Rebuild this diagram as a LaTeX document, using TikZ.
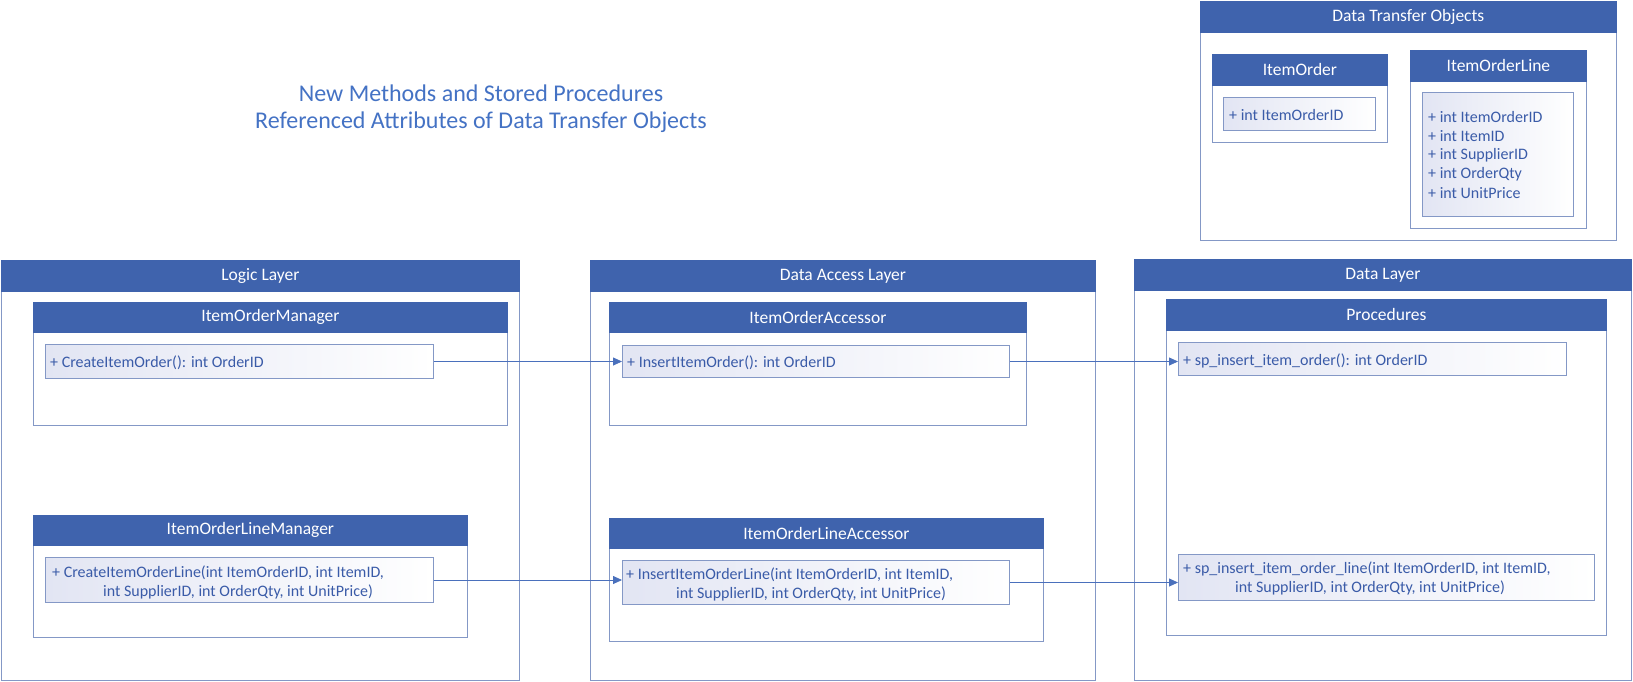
\documentclass[tikz,border=0pt]{standalone}
\usepackage{fontspec}
\setmainfont{Carlito}
\usetikzlibrary{arrows.meta}
\definecolor{hdrblue}{HTML}{3F63AD}
\definecolor{framecol}{HTML}{8498C6}
\definecolor{textblue}{HTML}{3A5BA8}
\definecolor{titleblue}{HTML}{4472C4}
\definecolor{arrcol}{HTML}{4A70BC}
\definecolor{gradL}{HTML}{E2E5F3}
\tikzset{
  frame/.style={draw=framecol, line width=1.2pt, fill=white, inner sep=0pt, anchor=north west},
  hdr/.style={draw=hdrblue, line width=0.8pt, fill=hdrblue, text=white, inner sep=0pt, anchor=north west, font=\fontsize{17.5}{20}\selectfont},
  meth/.style={draw=framecol, line width=1pt, left color=gradL, right color=white, inner sep=0pt, anchor=north west},
  mtext/.style={text=textblue, inner sep=0pt, anchor=west, yshift=-1.5pt, font=\fontsize{16}{18}\selectfont},
  ttl/.style={text=titleblue, inner sep=0pt, font=\fontsize{24}{28}\selectfont},
  arr/.style={draw=arrcol, line width=0.8pt, -{Triangle[length=9pt,width=8pt]}},
}
\begin{document}
\begin{tikzpicture}[x=1pt,y=-1pt]
\useasboundingbox (0,0) rectangle (1633,681);
% titles
\node[ttl] (t1) at (481,93) {New Methods and Stored Procedures};
\node[ttl] (t2) at (481,122) {Referenced Attributes of Data Transfer Objects};
% Data Transfer Objects
\node[frame, minimum width=416pt, minimum height=239pt] (dto) at (1200,1) {};
\node[hdr, minimum width=416pt, minimum height=31pt] (dtoh) at (1200,1) {Data Transfer Objects};
\node[frame, minimum width=175pt, minimum height=88pt] (io) at (1212,54) {};
\node[hdr, minimum width=175pt, minimum height=31pt] (ioh) at (1212,54) {ItemOrder};
\node[meth, minimum width=152pt, minimum height=33pt] (ioa1) at (1223,97) {};
\node[mtext] (ioat) at (1229,113) {+ int ItemOrderID};
\node[frame, minimum width=176pt, minimum height=178pt] (iol) at (1410,50) {};
\node[hdr, minimum width=176pt, minimum height=31pt] (iolh) at (1410,50) {ItemOrderLine};
\node[meth, minimum width=151pt, minimum height=124pt] (iola1) at (1422,92) {};
\node[mtext] (iolt1) at (1428,115) {+ int ItemOrderID};
\node[mtext] (iolt2) at (1428,135) {+ int ItemID};
\node[mtext] (iolt3) at (1428,154) {+ int SupplierID};
\node[mtext] (iolt4) at (1428,173) {+ int OrderQty};
\node[mtext] (iolt5) at (1428,192) {+ int UnitPrice};
% Logic Layer
\node[frame, minimum width=518pt, minimum height=420pt] (logic) at (1,260) {};
\node[hdr, minimum width=518pt, minimum height=31pt] (logich) at (1,260) {Logic Layer};
\node[frame, minimum width=474pt, minimum height=123pt] (iom) at (33,302) {};
\node[hdr, minimum width=474pt, minimum height=30pt] (iomh) at (33,302) {ItemOrderManager};
\node[meth, minimum width=388pt, minimum height=34pt] (m1) at (45,344) {};
\node[mtext] (m1t) at (50,361) {+ CreateItemOrder(): int OrderID};
\node[frame, minimum width=434pt, minimum height=122pt] (iolm) at (33,515) {};
\node[hdr, minimum width=434pt, minimum height=30pt] (iolmh) at (33,515) {ItemOrderLineManager};
\node[meth, minimum width=388pt, minimum height=45pt] (m4) at (45,557) {};
\node[mtext] (m4t1) at (52,571) {+ CreateItemOrderLine(int ItemOrderID, int ItemID,};
\node[mtext] (m4t2) at (103,590) {int SupplierID, int OrderQty, int UnitPrice)};
% Data Access Layer
\node[frame, minimum width=505pt, minimum height=420pt] (dal) at (590,260) {};
\node[hdr, minimum width=505pt, minimum height=31pt] (dalh) at (590,260) {Data Access Layer};
\node[frame, minimum width=417pt, minimum height=123pt] (ioacc) at (609,302) {};
\node[hdr, minimum width=417pt, minimum height=30pt] (ioacch) at (609,302) {ItemOrderAccessor};
\node[meth, minimum width=387pt, minimum height=32pt] (m2) at (622,345) {};
\node[mtext] (m2t) at (627,361) {+ InsertItemOrder(): int OrderID};
\node[frame, minimum width=434pt, minimum height=123pt] (iolacc) at (609,518) {};
\node[hdr, minimum width=434pt, minimum height=30pt] (iolacch) at (609,518) {ItemOrderLineAccessor};
\node[meth, minimum width=387pt, minimum height=44pt] (m5) at (622,560) {};
\node[mtext] (m5t1) at (626,573) {+ InsertItemOrderLine(int ItemOrderID, int ItemID,};
\node[mtext] (m5t2) at (676,592) {int SupplierID, int OrderQty, int UnitPrice)};
% Data Layer
\node[frame, minimum width=497pt, minimum height=421pt] (dl) at (1134,259) {};
\node[hdr, minimum width=497pt, minimum height=31pt] (dlh) at (1134,259) {Data Layer};
\node[frame, minimum width=440pt, minimum height=336pt] (proc) at (1166,299) {};
\node[hdr, minimum width=440pt, minimum height=31pt] (proch) at (1166,299) {Procedures};
\node[meth, minimum width=388pt, minimum height=33pt] (m3) at (1178,342) {};
\node[mtext] (m3t) at (1183,359) {+ sp\_insert\_item\_order(): int OrderID};
\node[meth, minimum width=416pt, minimum height=46pt] (m6) at (1178,554) {};
\node[mtext] (m6t1) at (1183,567) {+ sp\_insert\_item\_order\_line(int ItemOrderID, int ItemID,};
\node[mtext] (m6t2) at (1235,586) {int SupplierID, int OrderQty, int UnitPrice)};
% connectors
\draw[arr] (m1.east) -- (m1.east -| m2.west);
\draw[arr] (m2.east) -- (m2.east -| m3.west);
\draw[arr] (m4.east) -- (m4.east -| m5.west);
\draw[arr] (m5.east) -- (m5.east -| m6.west);
\end{tikzpicture}
\end{document}
